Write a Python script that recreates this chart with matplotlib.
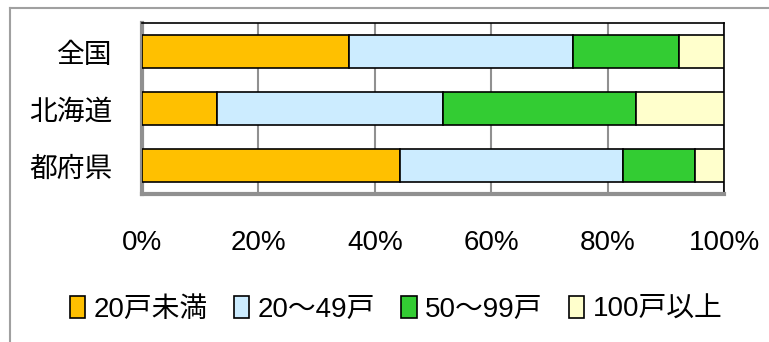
import numpy as np
import matplotlib.pyplot as plt
from matplotlib.lines import Line2D

plt.rcParams['font.family'] = ['Liberation Sans', 'Noto Sans CJK JP']

# regions (top to bottom) and farm-size shares in percent
regions = ['全国', '北海道', '都府県']
size_classes = ['20戸未満', '20～49戸', '50～99戸', '100戸以上']
under_20 = [35.5, 12.9, 44.3]
from_20_to_49 = [38.6, 38.9, 38.4]
from_50_to_99 = [18.2, 33.1, 12.4]
over_100 = [7.7, 15.1, 4.9]
colors = ['#FFC000', '#CCECFF', '#33CC33', '#FFFFCC']

fig = plt.figure(figsize=(7.69, 3.42), dpi=100)
ax = fig.add_axes([0.1846, 0.4327, 0.9415 - 0.1846, 0.9327 - 0.4327])

y = np.arange(len(regions))
left = np.zeros(len(regions))
for name, vals, c in zip(size_classes, [under_20, from_20_to_49, from_50_to_99, over_100], colors):
    ax.barh(y, vals, left=left, height=0.565, color=c, edgecolor='black',
            linewidth=1.2, label=name, zorder=3)
    left += np.array(vals)

ax.set_xlim(0, 100)
ax.set_ylim(2.5, -0.5)
ax.set_xticks(np.arange(0, 101, 20))
ax.set_xticklabels([f'{v}%' for v in range(0, 101, 20)])
ax.set_yticks(y)
ax.set_yticklabels(regions)
ax.tick_params(axis='x', length=0, pad=26, labelsize=20)
ax.tick_params(axis='y', length=0, pad=21, labelsize=20)
for lab in ax.get_yticklabels():
    lab.set_family(['Noto Sans CJK JP'])

ax.xaxis.grid(True, color='#909090', linewidth=1.5, zorder=0)
ax.spines['top'].set_linewidth(1.2)
ax.spines['right'].set_linewidth(1.2)
ax.spines['left'].set_color('#909090')
ax.spines['left'].set_linewidth(3)
ax.spines['bottom'].set_color('#909090')
ax.spines['bottom'].set_linewidth(3)

leg = fig.legend(loc='center', bbox_to_anchor=(0.515, 0.095), ncol=4, frameon=False,
                 fontsize=20, handlelength=0.55, handleheight=0.8,
                 handletextpad=0.3, columnspacing=0.95)

# chart outer border
fig.add_artist(Line2D([0.013, 0.013], [0, 0.977], color='#A0A0A0', linewidth=1.5,
                      transform=fig.transFigure))
fig.add_artist(Line2D([0.013, 1], [0.977, 0.977], color='#A0A0A0', linewidth=1.5,
                      transform=fig.transFigure))

fig.savefig('out.png', dpi=100)
